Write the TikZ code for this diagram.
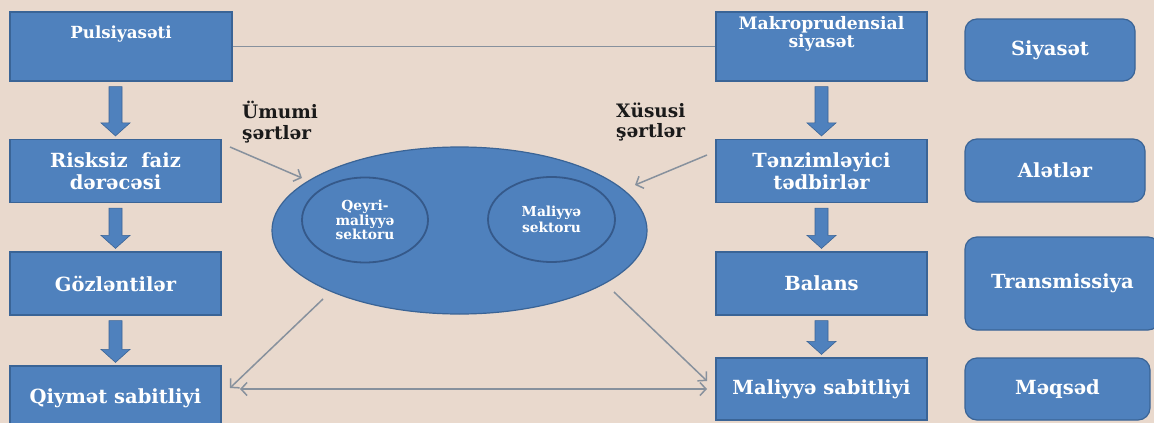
\documentclass[tikz,border=0pt]{standalone}
\usepackage{fontspec}
\setmainfont{DejaVu Serif}
\usetikzlibrary{arrows.meta,calc,shapes.geometric}
\definecolor{bg}{HTML}{E9D9CD}
\definecolor{boxc}{HTML}{4F81BD}
\definecolor{bordc}{HTML}{3A6496}
\definecolor{innerc}{HTML}{35598A}
\definecolor{linec}{HTML}{87919D}
\definecolor{txtdark}{HTML}{1A1A1A}
\newcommand\fsz[2]{\fontsize{#1}{#2}\selectfont\bfseries}
\newcommand\blockarr[2]{%
  \path[fill=boxc,draw=bordc,line width=0.6pt] let \p1=(#1.south), \p2=(#2.north) in
    (\x2-6.5pt,\y1-5pt) -- (\x2+6.5pt,\y1-5pt) -- (\x2+6.5pt,\y2+16pt) --
    (\x2+14.5pt,\y2+16pt) -- (\x2,\y2+3pt) -- (\x2-14.5pt,\y2+16pt) --
    (\x2-6.5pt,\y2+16pt) -- cycle;}
\begin{document}
\begin{tikzpicture}[x=1pt,y=-1pt,
  box/.style={draw=bordc,fill=boxc,line width=1.2pt,inner sep=0pt,text=white,align=center},
  rbox/.style={box,rounded corners=12pt},
  boxtxt/.style={font=\fsz{19.5}{22}},
  conn/.style={draw=linec,line width=1.5pt},
  arr/.style={conn,-{Straight Barb[length=6pt,width=13pt,line width=1.5pt]}},
  darr/.style={conn,{Straight Barb[length=6pt,width=13pt,line width=1.5pt]}-{Straight Barb[length=6pt,width=13pt,line width=1.5pt]}},
  wtext/.style={text=white,align=center,inner sep=0pt},
  dtext/.style={text=txtdark,align=left,inner sep=0pt}]
\fill[bg] (0,0) rectangle (1154,423);
\useasboundingbox (0,0) rectangle (1154,423);

% left column
\node[box,minimum width=222pt,minimum height=69pt] (puls) at (121,46.5) {};
\node[wtext,font=\fsz{16.7}{18}] (pulsT) at (121,34) {Pulsiyasəti};
\node[box,boxtxt,minimum width=211pt,minimum height=63pt] (risk) at (115.5,171) {Risksiz\ \ faiz\\dərəcəsi};
\node[box,boxtxt,minimum width=211pt,minimum height=63pt] (gozl) at (115.5,283.5) {Gözləntilər};
\node[box,boxtxt,minimum width=211pt,minimum height=64pt] (qiym) at (115.5,398) {Qiymət sabitliyi};

% right column
\node[box,minimum width=211pt,minimum height=69pt] (makro) at (821.5,46.5) {};
\node[wtext,font=\fsz{17.2}{15.5}] (makroT) at (821.5,34) {Makroprudensial\\siyasət};
\node[box,boxtxt,minimum width=211pt,minimum height=63pt] (tenz) at (821.5,171) {Tənzimləyici\\tədbirlər};
\node[box,boxtxt,minimum width=211pt,minimum height=63pt] (balans) at (821.5,283.5) {Balans};
\node[box,boxtxt,minimum width=211pt,minimum height=62pt] (malsab) at (821.5,389) {Maliyyə sabitliyi};

% legend column
\node[rbox,boxtxt,minimum width=170pt,minimum height=62pt] (siyaset) at (1050,50) {Siyasət};
\node[rbox,boxtxt,minimum width=180pt,minimum height=63pt] (aletler) at (1055,170.5) {Alətlər};
\node[rbox,boxtxt,minimum width=195pt,minimum height=93pt] (transm) at (1062.5,283.5) {Transmissiya};
\node[rbox,boxtxt,minimum width=185pt,minimum height=62pt] (meqsed) at (1057.5,389) {Məqsəd};

% block arrows
\blockarr{puls}{risk}
\blockarr{risk}{gozl}
\blockarr{gozl}{qiym}
\blockarr{makro}{tenz}
\blockarr{tenz}{balans}
\blockarr{balans}{malsab}

% central ellipse
\node[ellipse,draw=bordc,fill=boxc,line width=1.2pt,minimum width=375pt,minimum height=167pt,inner sep=0pt] (ell) at (459.5,230.5) {};
\node[ellipse,draw=innerc,line width=1.8pt,minimum width=126pt,minimum height=85pt,inner sep=0pt,text=white,align=center,font=\fsz{13.8}{14.5}] (qeyri) at (365,220) {Qeyri-\\maliyyə\\sektoru};
\node[ellipse,draw=innerc,line width=1.8pt,minimum width=127pt,minimum height=85pt,inner sep=0pt,text=white,align=center,font=\fsz{13.8}{16}] (malsek) at (551.5,219.5) {Maliyyə\\sektoru};

% condition labels
\node[dtext,anchor=west,font=\fsz{18.5}{20.5}] (umumi) at (242,122) {Ümumi\\şərtlər};
\node[dtext,anchor=west,font=\fsz{18.5}{20.5}] (xususi) at (616,122) {Xüsusi\\şərtlər};

% connectors
\draw[conn] (puls.east) -- (makro.west);
\coordinate (a1s) at (230,147);
\coordinate (a1e) at (302,178);
\coordinate (a2s) at (707,155);
\coordinate (a2e) at (635,185);
\coordinate (a3s) at (323,299);
\coordinate (a3e) at (230,388);
\coordinate (a4s) at (614,292);
\coordinate (a4e) at (707,381);
\coordinate (a5s) at (240,389);
\coordinate (a5e) at (707,389);
\draw[arr] (a1s) -- (a1e);
\draw[arr] (a2s) -- (a2e);
\draw[arr] (a3s) -- (a3e);
\draw[arr] (a4s) -- (a4e);
\draw[darr] (a5s) -- (a5e);
\end{tikzpicture}
\end{document}
